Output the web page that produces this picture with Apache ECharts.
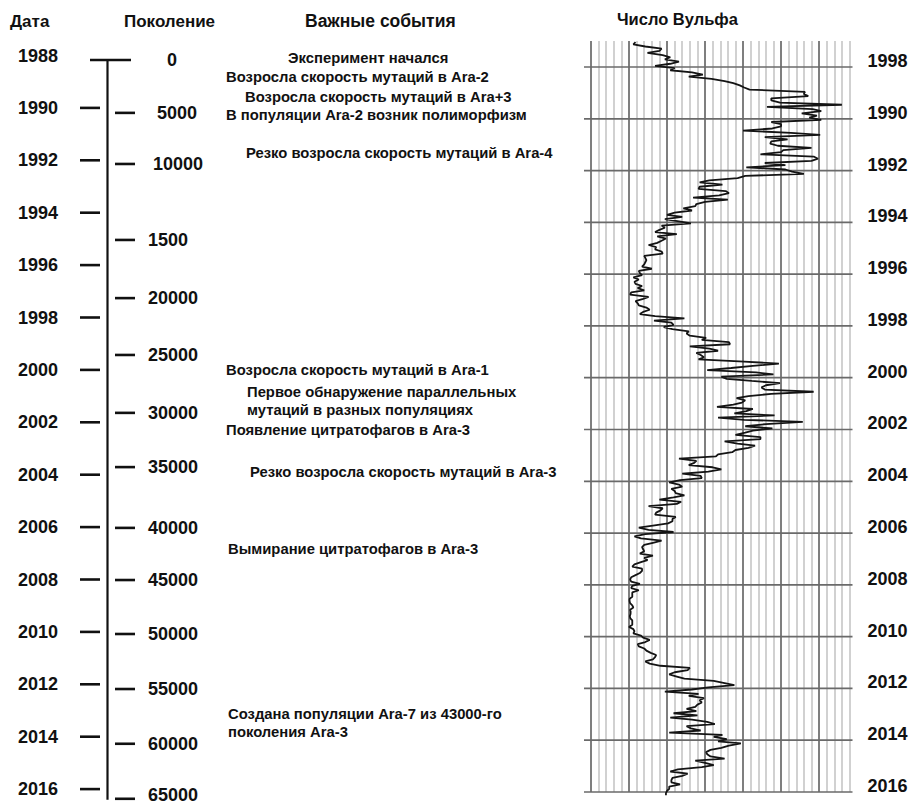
<!DOCTYPE html>
<html>
<head>
<meta charset="utf-8">
<script src="https://cdn.jsdelivr.net/npm/echarts@6/dist/echarts.min.js"></script>
<style>
  html, body { margin: 0; padding: 0; background: #ffffff; }
  #chart { width: 912px; height: 806px; }
</style>
</head>
<body>
<div id="chart"></div>
<script>
// ---- Timeline: calendar dates ----
const dateTicks  = [1988, 1990, 1992, 1994, 1996, 1998, 2000, 2002, 2004, 2006, 2008, 2010, 2012, 2014, 2016];
const dateLabels = ['1988', '1990', '1992', '1994', '1996', '1998', '2000', '2002', '2004', '2006', '2008', '2010', '2012', '2014', '2016'];

// ---- Timeline: generations, placed at the date each was reached ----
const genLabels = ['0', '5000', '10000', '1500', '20000', '25000', '30000', '35000', '40000', '45000', '50000', '55000', '60000', '65000'];
const genDates  = [1988.17, 1990.19, 1992.14, 1995.04, 1997.26, 1999.43, 2001.64, 2003.71, 2006.03, 2008.02, 2010.08, 2012.18, 2014.27, 2016.37];

// ---- Key events ----
const eventTexts = [
  'Эксперимент начался',
  'Возросла скорость мутаций в Ara-2',
  'Возросла скорость мутаций в Ara+3',
  'В популяции Ara-2 возник полиморфизм',
  'Резко возросла скорость мутаций в Ara-4',
  'Возросла скорость мутаций в Ara-1',
  'Первое обнаружение параллельных\nмутаций в разных популяциях',
  'Появление цитратофагов в Ara-3',
  'Резко возросла скорость мутаций в Ara-3',
  'Вымирание цитратофагов в Ara-3',
  'Создана популяции Ara-7 из 43000-го\nпоколения Ara-3'
];
const eventDates = [1988.10, 1988.82, 1989.58, 1990.27, 1991.72, 2000.00, 2001.19, 2002.29, 2003.90, 2006.84, 2013.48];

// ---- Monthly Wolf (sunspot) number, from January 1987 ----
const wolfStartYear = 1987;
const wolf1987 = [6, 4, 15, 30, 28, 17, 31, 38, 33, 46, 38, 24];
const wolf1988 = [42, 38, 58, 68, 55, 76, 88, 96, 102, 106, 111, 162];
const wolf1989 = [161, 165, 131, 131, 139, 196, 127, 169, 177, 159, 173, 166];
const wolf1990 = [177, 131, 140, 140, 132, 105, 149, 176, 125, 146, 131, 130];
const wolf1991 = [137, 168, 142, 140, 121, 170, 174, 168, 125, 144, 108, 144];
const wolf1992 = [150, 161, 107, 100, 74, 65, 86, 65, 64, 89, 92, 83];
const wolf1993 = [59, 91, 70, 62, 61, 50, 58, 42, 35, 49, 33, 46];
const wolf1994 = [57, 30, 33, 28, 24, 44, 26, 34, 30, 26, 18, 25];
const wolf1995 = [24, 30, 31, 14, 15, 16, 15, 14, 12, 21, 9, 10];
const wolf1996 = [12, 4, 9, 5, 6, 12, 8, 14, 2, 1, 18, 13];
const wolf1997 = [6, 8, 9, 16, 19, 13, 10, 24, 51, 23, 39, 41];
const wolf1998 = [32, 40, 55, 53, 56, 71, 67, 92, 93, 56, 74, 82];
const wolf1999 = [62, 66, 69, 64, 106, 138, 114, 94, 72, 117, 133, 85];
const wolf2000 = [90, 113, 139, 126, 122, 125, 170, 131, 110, 99, 107, 104];
const wolf2001 = [96, 81, 114, 108, 97, 134, 82, 106, 160, 126, 107, 132];
const wolf2002 = [114, 107, 98, 121, 121, 88, 100, 116, 110, 98, 95, 82];
const wolf2003 = [80, 46, 62, 60, 55, 77, 85, 73, 49, 66, 67, 47];
const wolf2004 = [37, 46, 49, 39, 42, 43, 51, 41, 28, 48, 44, 18];
const wolf2005 = [31, 29, 25, 24, 43, 40, 40, 36, 22, 9, 18, 41];
const wolf2006 = [15, 5, 11, 30, 22, 14, 12, 13, 14, 10, 22, 14];
const wolf2007 = [17, 11, 5, 3, 12, 12, 10, 6, 2, 1, 2, 10];
const wolf2008 = [3, 2, 9, 3, 3, 3, 0.5, 0.5, 1, 3, 4, 1];
const wolf2009 = [1.5, 1.4, 0.7, 1.2, 3, 3, 3, 0, 4, 5, 4, 11];
const wolf2010 = [13, 19, 15, 8, 9, 14, 16, 20, 25, 24, 22, 15];
const wolf2011 = [19, 29, 56, 54, 42, 37, 44, 51, 78, 88, 97, 73];
const wolf2012 = [58, 33, 64, 55, 69, 65, 67, 63, 61, 53, 62, 41];
const wolf2013 = [63, 38, 58, 72, 79, 53, 57, 66, 37, 86, 78, 90];
const wolf2014 = [82, 103, 92, 85, 75, 71, 72, 75, 88, 61, 70, 78];
const wolf2015 = [67, 45, 38, 54, 49, 40, 39, 39, 47, 37, 37, 35];
const wolf2016 = [34, 34];

// Year lines of the Wolf-number panel and their labels
const wolfGridYears  = [1988, 1990, 1992, 1994, 1996, 1998, 2000, 2002, 2004, 2006, 2008, 2010, 2012, 2014, 2016];
const wolfYearLabels = ['1998', '1990', '1992', '1994', '1996', '1998', '2000', '2002', '2004', '2006', '2008', '2010', '2012', '2014', '2016'];

// ---- Layout (pixels) ----
const FONT = '"Liberation Sans", Arial, Helvetica, sans-serif';
const INK = '#111111';
const PAGE_H = 806;
const TL = {
  axisX: 107.5, capX1: 90, capX2: 131,
  dateTickX1: 80, dateTickX2: 100, dateLabelRight: 58,
  genTickX1: 115, genTickX2: 135, genLabelLeft: 148,
  eventLeft: 226
};
const genLabelIndent = [19, 9, 5, 0, 0, 0, 0, 0, 0, 0, 0, 0, 0, 0];
const eventIndent = [62, 0, 19, 0, 20, 0, 21, 0, 24, 2, 2];

const wolfSeries = [].concat(
  wolf1987, wolf1988, wolf1989, wolf1990, wolf1991, wolf1992, wolf1993, wolf1994,
  wolf1995, wolf1996, wolf1997, wolf1998, wolf1999, wolf2000, wolf2001, wolf2002,
  wolf2003, wolf2004, wolf2005, wolf2006, wolf2007, wolf2008, wolf2009, wolf2010,
  wolf2011, wolf2012, wolf2013, wolf2014, wolf2015, wolf2016
);
const wolfPoints = wolfSeries.map((v, i) => [v, wolfStartYear + (i + 0.5) / 12]);

const chart = echarts.init(document.getElementById('chart'), null, { renderer: 'svg' });

const textStyle = (size, extra) => Object.assign({
  font: 'bold ' + size + 'px ' + FONT,
  fill: INK
}, extra || {});

// keep an 18px label fully on the page
const labelY = y => Math.min(y, PAGE_H - 11);

const option = {
  animation: false,
  backgroundColor: '#ffffff',
  graphic: [
    { type: 'text', x: 10,  y: 21, style: textStyle(17, { text: 'Дата', verticalAlign: 'middle' }) },
    { type: 'text', x: 124, y: 21, style: textStyle(17, { text: 'Поколение', verticalAlign: 'middle' }) },
    { type: 'text', x: 305, y: 21, style: textStyle(17.5, { text: 'Важные события', verticalAlign: 'middle' }) },
    { type: 'text', x: 617, y: 19, style: textStyle(16.5, { text: 'Число Вульфа', verticalAlign: 'middle' }) }
  ],
  grid: [
    // timeline column (dates, generations, events)
    { left: 0, top: 55.5, width: 560, height: 733.6 },
    // Wolf-number panel
    { left: 591, top: 41.1, width: 258.5, height: 750.9 }
  ],
  xAxis: [
    { gridIndex: 0, type: 'value', min: 0, max: 560, show: false },
    {
      gridIndex: 1, type: 'value', min: -35, max: 203, interval: 7,
      axisLine: { show: false }, axisTick: { show: false }, axisLabel: { show: false },
      splitLine: {
        show: true,
        lineStyle: { color: ['#5f5f5f', '#c6c6c6', '#c6c6c6', '#c6c6c6', '#c6c6c6'], width: 1.6 }
      }
    }
  ],
  yAxis: [
    { gridIndex: 0, type: 'value', min: 1988, max: 2016, inverse: true, show: false },
    { gridIndex: 1, type: 'value', min: 1987, max: 2016, inverse: true, show: false }
  ],
  series: [
    // date ticks and labels
    {
      type: 'custom', xAxisIndex: 0, yAxisIndex: 0, z: 2,
      data: dateTicks.map(v => [v]),
      renderItem: (params, api) => {
        const v = api.value(0);
        const y = api.coord([0, v])[1];
        const kids = [{
          type: 'text', x: TL.dateLabelRight, y: labelY(y),
          style: textStyle(18, { text: dateLabels[params.dataIndex], align: 'right', verticalAlign: 'middle' })
        }];
        if (v > genDates[0]) {
          kids.push({ type: 'line', shape: { x1: TL.dateTickX1, y1: y, x2: TL.dateTickX2, y2: y },
                      style: { stroke: INK, lineWidth: 2.6 } });
        }
        return { type: 'group', children: kids };
      }
    },
    // generation axis, ticks and labels
    {
      type: 'custom', xAxisIndex: 0, yAxisIndex: 0, z: 2,
      data: genDates.map(v => [v]),
      renderItem: (params, api) => {
        const i = params.dataIndex;
        const y = api.coord([0, api.value(0)])[1];
        const kids = [{
          type: 'text', x: TL.genLabelLeft + genLabelIndent[i], y: labelY(y),
          style: textStyle(18, { text: genLabels[i], align: 'left', verticalAlign: 'middle' })
        }];
        if (i === 0) {
          const yEnd = api.coord([0, genDates[genDates.length - 1]])[1];
          kids.push({ type: 'line', shape: { x1: TL.axisX, y1: y, x2: TL.axisX, y2: yEnd + 1 },
                      style: { stroke: INK, lineWidth: 2.2 } });
          kids.push({ type: 'line', shape: { x1: TL.capX1, y1: y, x2: TL.capX2, y2: y },
                      style: { stroke: INK, lineWidth: 2.6 } });
        } else {
          kids.push({ type: 'line', shape: { x1: TL.genTickX1, y1: y, x2: TL.genTickX2, y2: y },
                      style: { stroke: INK, lineWidth: 2.6 } });
        }
        return { type: 'group', children: kids };
      }
    },
    // key events
    {
      type: 'custom', xAxisIndex: 0, yAxisIndex: 0, z: 2,
      data: eventDates.map(v => [v]),
      renderItem: (params, api) => {
        const i = params.dataIndex;
        const y = api.coord([0, api.value(0)])[1];
        return {
          type: 'text', x: TL.eventLeft + eventIndent[i], y: y,
          style: textStyle(14.8, { text: eventTexts[i], align: 'left', verticalAlign: 'middle', lineHeight: 18 })
        };
      }
    },
    // year lines across the Wolf-number panel, with labels on the right
    {
      type: 'custom', xAxisIndex: 1, yAxisIndex: 1, z: 2,
      data: wolfGridYears.map(v => [v]),
      renderItem: (params, api) => {
        const cs = params.coordSys;
        const y = api.coord([0, api.value(0)])[1];
        return {
          type: 'group',
          children: [
            { type: 'line', shape: { x1: cs.x - 7, y1: y, x2: cs.x + cs.width + 3, y2: y },
              style: { stroke: '#6a6a6a', lineWidth: 1.7 } },
            { type: 'text', x: cs.x + cs.width + 18, y: y - 6,
              style: textStyle(18, { text: wolfYearLabels[params.dataIndex], align: 'left', verticalAlign: 'middle' }) }
          ]
        };
      }
    },
    // monthly Wolf number
    {
      type: 'line', xAxisIndex: 1, yAxisIndex: 1, z: 5,
      data: wolfPoints,
      symbol: 'none', showSymbol: false, clip: false,
      lineStyle: { color: '#141414', width: 1.8 }
    }
  ]
};

chart.setOption(option);
</script>
</body>
</html>
